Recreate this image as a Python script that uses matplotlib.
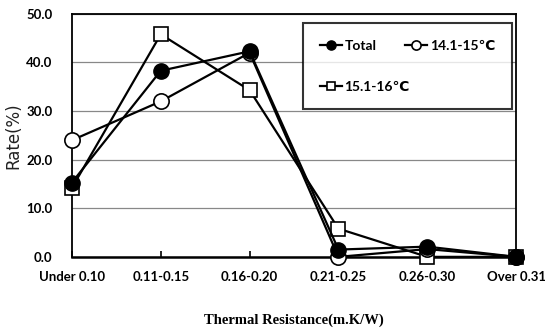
import numpy as np
import matplotlib.pyplot as plt

# categories and series
categories = ['Under 0.10', '0.11-0.15', '0.16-0.20', '0.21-0.25', '0.26-0.30', 'Over 0.31']
total = [15.3, 38.3, 42.3, 1.5, 2.1, 0.0]
t14_15 = [24.0, 32.0, 42.0, 0.0, 1.6, 0.0]
t15_16 = [14.2, 45.8, 34.3, 5.8, 0.0, 0.0]
yticks = [0, 10, 20, 30, 40, 50]

sans = ['Lato', 'DejaVu Sans']

fig = plt.figure(figsize=(5.45, 3.31), dpi=100)
ax = fig.add_axes([0.132, 0.224, 0.815, 0.734])

x = np.arange(len(categories))
# draw order: squares under, circles, then total on top
l3, = ax.plot(x, t15_16, color='black', lw=1.6, marker='s', ms=10,
              mfc='white', mec='black', mew=1.2, clip_on=False, zorder=3)
l2, = ax.plot(x, t14_15, color='black', lw=1.6, marker='o', ms=11,
              mfc='white', mec='black', mew=1.2, clip_on=False, zorder=4)
l1, = ax.plot(x, total, color='black', lw=1.6, marker='o', ms=11,
              mfc='black', mec='black', clip_on=False, zorder=5)

ax.set_xlim(0, len(categories) - 1)
ax.set_ylim(0, 50)
ax.set_yticks(yticks)
ax.set_yticklabels(['%.1f' % v for v in yticks], fontfamily=sans,
                   fontweight='bold', fontsize=9.5)
ax.set_xticks(x)
ax.set_xticklabels(categories, fontfamily=sans, fontweight='bold', fontsize=9.5)
ax.tick_params(axis='y', length=0, pad=14)
ax.tick_params(axis='x', direction='in', length=4, width=1.2, pad=10)

ax.grid(axis='y', color='#888888', lw=0.9)
ax.set_axisbelow(True)
for s in ax.spines.values():
    s.set_linewidth(1.3)
ax.spines['bottom'].set_linewidth(1.8)
ax.spines['bottom'].set_zorder(2)

ax.set_ylabel('Rate(%)', fontfamily='DejaVu Sans', fontsize=12, color='#222222', labelpad=3)
ax.set_xlabel('Thermal Resistance(m.K/W)', fontfamily='Liberation Serif',
              fontweight='bold', fontsize=10.5, labelpad=22)

leg = ax.legend([l1, l3, l2], ['Total', '15.1-16℃', '14.1-15℃'], ncol=2,
                loc='upper left', bbox_to_anchor=(0.52, 0.646, 0.47, 0.317),
                mode='expand', frameon=True, fancybox=False, borderaxespad=0,
                borderpad=1.2, labelspacing=2.1, handletextpad=0.2,
                handlelength=1.6, markerscale=0.6, columnspacing=1.0,
                prop={'family': sans, 'weight': 'bold', 'size': 10})
leg.get_frame().set_edgecolor('black')
leg.get_frame().set_linewidth(1.5)
leg.set_zorder(10)

fig.savefig('out.png', dpi=100)
